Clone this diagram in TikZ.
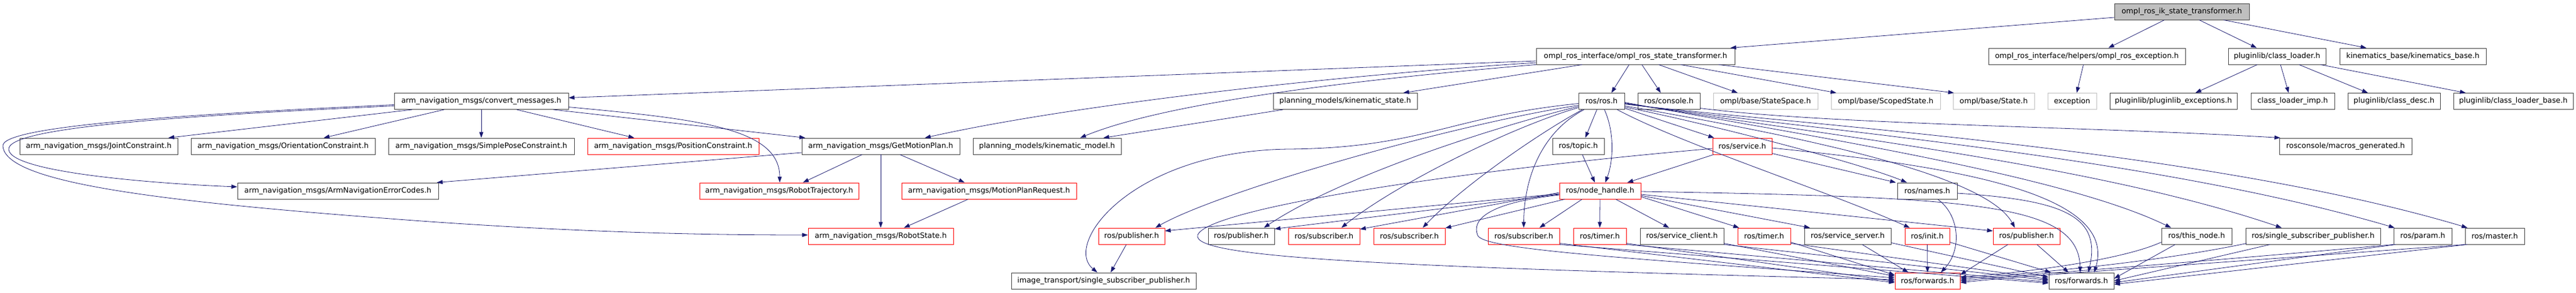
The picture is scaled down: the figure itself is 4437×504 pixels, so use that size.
\documentclass[tikz,border=0pt]{standalone}
\usepackage{fontspec}
\setmainfont{DejaVu Sans}
\usetikzlibrary{arrows.meta}
\definecolor{edgec}{HTML}{191970}
\definecolor{boxc}{HTML}{404040}
\definecolor{grayc}{HTML}{BFBFBF}
\begin{document}
\begin{tikzpicture}[x=1pt,y=-1pt,
  box/.style={draw=boxc, line width=0.9pt, minimum height=28pt, inner sep=0pt, font=\fontsize{12.8}{15}\selectfont, anchor=center},
  rbox/.style={box, draw=red},
  gbox/.style={box, draw=grayc},
  rootbox/.style={box, fill=grayc},
  e/.style={draw=edgec, line width=0.8pt, -{Triangle[length=10pt,width=7pt]}}
]
\useasboundingbox (0,0) rectangle (4437,504);
% row 0
\node[rootbox, minimum width=232pt] (rt) at (3758,20) {ompl\_ros\_ik\_state\_transformer.h};
% row 1
\node[box, minimum width=342pt] (orst) at (2817,97) {ompl\_ros\_interface/ompl\_ros\_state\_transformer.h};
\node[box, minimum width=339pt] (ore) at (3594.5,97) {ompl\_ros\_interface/helpers/ompl\_ros\_exception.h};
\node[box, minimum width=168pt] (cl) at (3922,97) {pluginlib/class\_loader.h};
\node[box, minimum width=252pt] (kb) at (4156,97) {kinematics\_base/kinematics\_base.h};
% row 2
\node[box, minimum width=300pt] (cm) at (829,174.5) {arm\_navigation\_msgs/convert\_messages.h};
\node[box, minimum width=248pt] (ks) at (2317,174.5) {planning\_models/kinematic\_state.h};
\node[box, minimum width=79pt] (rh) at (2758.5,174.5) {ros/ros.h};
\node[box, minimum width=107pt] (con) at (2874.5,174.5) {ros/console.h};
\node[gbox, minimum width=180pt] (ss) at (3041,174.5) {ompl/base/StateSpace.h};
\node[gbox, minimum width=188pt] (scs) at (3248,174.5) {ompl/base/ScopedState.h};
\node[gbox, minimum width=140pt] (st) at (3434,174.5) {ompl/base/State.h};
\node[gbox, minimum width=84pt] (exc) at (3569,174.5) {exception};
\node[box, minimum width=219pt] (pe) at (3743.5,174.5) {pluginlib/pluginlib\_exceptions.h};
\node[box, minimum width=144pt] (cli) at (3949,174.5) {class\_loader\_imp.h};
\node[box, minimum width=159pt] (cd) at (4123.5,174.5) {pluginlib/class\_desc.h};
\node[box, minimum width=206pt] (clb) at (4329,174.5) {pluginlib/class\_loader\_base.h};
% row 3
\node[box, minimum width=272pt] (jc) at (170,252) {arm\_navigation\_msgs/JointConstraint.h};
\node[box, minimum width=317pt] (oc) at (487.5,252) {arm\_navigation\_msgs/OrientationConstraint.h};
\node[box, minimum width=320pt] (sp) at (829,252) {arm\_navigation\_msgs/SimplePoseConstraint.h};
\node[rbox, minimum width=295pt] (pc) at (1159.5,252) {arm\_navigation\_msgs/PositionConstraint.h};
\node[box, minimum width=272pt] (gmp) at (1517,252) {arm\_navigation\_msgs/GetMotionPlan.h};
\node[box, minimum width=255pt] (km) at (1803.5,252) {planning\_models/kinematic\_model.h};
\node[box, minimum width=89pt] (tp) at (2718.5,252) {ros/topic.h};
\node[rbox, minimum width=102pt] (sv) at (3001,252) {ros/service.h};
\node[box, minimum width=228pt] (mg) at (4040,252) {rosconsole/macros\_generated.h};
% row 4
\node[box, minimum width=346pt] (ane) at (582,329) {arm\_navigation\_msgs/ArmNavigationErrorCodes.h};
\node[rbox, minimum width=274pt] (rtj) at (1342,329) {arm\_navigation\_msgs/RobotTrajectory.h};
\node[rbox, minimum width=301pt] (mpr) at (1703.5,329) {arm\_navigation\_msgs/MotionPlanRequest.h};
\node[rbox, minimum width=140pt] (nh) at (2756,329) {ros/node\_handle.h};
\node[box, minimum width=103pt] (nm) at (3319.5,329) {ros/names.h};
% row 5
\node[rbox, minimum width=250pt] (rs) at (1517,407) {arm\_navigation\_msgs/RobotState.h};
\node[rbox, minimum width=114pt] (pub1) at (1949,407) {ros/publisher.h};
\node[box, minimum width=114pt] (pub2) at (2138,407) {ros/publisher.h};
\node[rbox, minimum width=123pt] (sub1) at (2280.5,407) {ros/subscriber.h};
\node[rbox, minimum width=123pt] (sub2) at (2427.5,407) {ros/subscriber.h};
\node[rbox, minimum width=123pt] (sub3) at (2624.5,407) {ros/subscriber.h};
\node[rbox, minimum width=91pt] (tm1) at (2755.5,407) {ros/timer.h};
\node[box, minimum width=144pt] (scl) at (2897,407) {ros/service\_client.h};
\node[rbox, minimum width=91pt] (tm2) at (3038.5,407) {ros/timer.h};
\node[box, minimum width=149pt] (ssv) at (3182.5,407) {ros/service\_server.h};
\node[rbox, minimum width=77pt] (ini) at (3319.5,407) {ros/init.h};
\node[rbox, minimum width=115pt] (pub3) at (3490.5,407) {ros/publisher.h};
\node[box, minimum width=121pt] (tn) at (3783.5,407) {ros/this\_node.h};
\node[box, minimum width=232pt] (ssp) at (3984,407) {ros/single\_subscriber\_publisher.h};
\node[box, minimum width=100pt] (prm) at (4173,407) {ros/param.h};
\node[box, minimum width=102pt] (mst) at (4297,407) {ros/master.h};
% row 6
\node[box, minimum width=318pt] (img) at (1901,484) {image\_transport/single\_subscriber\_publisher.h};
\node[rbox, minimum width=112pt] (fwr) at (3320,484) {ros/forwards.h};
\node[box, minimum width=112pt] (fwb) at (3585,484) {ros/forwards.h};

% edges from root
\draw[e] ([yshift=-10pt]rt.west) -- ([xshift=-8pt]orst.north east);
\draw[e] ([xshift=-30pt]rt.south) -- ([xshift=37pt]ore.north);
\draw[e] ([xshift=30pt]rt.south) -- ([xshift=-35pt]cl.north);
\draw[e] ([xshift=72pt]rt.south) -- ([xshift=-80pt]kb.north);
% from ompl_ros_state_transformer
\draw[e] ([yshift=-8pt]orst.west) -- ([yshift=6pt]cm.east);
\draw[e] ([yshift=-11pt]orst.west) .. controls (2300,130) and (1850,180) .. ([xshift=76pt]gmp.north);
\draw[e] (orst.south west) .. controls (2300,140) and (2000,180) .. ([xshift=57pt]km.north);
\draw[e] ([xshift=-92pt]orst.south) -- ([xshift=100pt]ks.north);
\draw[e] ([xshift=-107pt]ks.south) -- ([xshift=97pt]km.north);
\draw[e] ([xshift=-11pt]orst.south) -- ([xshift=17pt]rh.north);
\draw[e] ([xshift=11pt]orst.south) -- ([xshift=-14pt]con.north);
\draw[e] ([xshift=40pt]orst.south) -- ([xshift=-48pt]ss.north);
\draw[e] ([xshift=78pt]orst.south) -- ([xshift=-85pt]scs.north);
\draw[e] ([xshift=-28pt]orst.south east) -- ([xshift=2pt]st.north west);
% exception / pluginlib
\draw[e] ([xshift=-6pt]ore.south) -- ([xshift=8pt]exc.north);
\draw[e] ([xshift=-34pt]cl.south) -- ([xshift=38pt]pe.north);
\draw[e] ([xshift=6pt]cl.south) -- ([xshift=-7pt]cli.north);
\draw[e] ([xshift=38pt]cl.south) -- ([xshift=-45pt]cd.north);
\draw[e] ([xshift=75pt]cl.south) -- ([xshift=-82pt]clb.north);
% convert_messages
\draw[e] ([xshift=-119pt]cm.south) -- ([xshift=120pt]jc.north);
\draw[e] ([xshift=-64pt]cm.south) -- ([xshift=70pt]oc.north);
\draw[e] (cm.south) -- (sp.north);
\draw[e] ([xshift=61pt]cm.south) -- ([xshift=-67pt]pc.north);
\draw[e] ([xshift=124pt]cm.south) -- ([xshift=-130pt]gmp.north);
\draw[e] ([yshift=-10pt]cm.east) .. controls (1200,205) and (1343,220) .. ([xshift=1pt]rtj.north);
\draw[e] ([yshift=-8pt]cm.west) .. controls (300,200) and (10,220) .. (15,258) .. controls (20,300) and (300,318) .. ([yshift=7pt]ane.west);
\draw[e] ([yshift=-6pt]cm.west) .. controls (300,198) and (0,218) .. (5,252) .. controls (10,318) and (300,350) .. (740,382) .. controls (1000,400) and (1200,405) .. ([yshift=2pt]rs.west);
% GetMotionPlan
\draw[e] ([yshift=-11pt]gmp.west) -- ([xshift=-3pt]ane.north east);
\draw[e] ([xshift=-32pt]gmp.south) -- ([xshift=41pt]rtj.north);
\draw[e] (gmp.south) -- (rs.north);
\draw[e] ([xshift=33pt]gmp.south) -- ([xshift=-42pt]mpr.north);
\draw[e] ([xshift=-36pt]mpr.south) -- ([xshift=40pt]rs.north);
% ros.h
\draw[e] ([xshift=-8pt]rh.south) -- ([xshift=12pt]tp.north);
\draw[e] ([xshift=5pt]rh.south) .. controls (2782,230) and (2778,280) .. ([xshift=9pt]nh.north);
\draw[e] ([xshift=7pt]tp.south) -- ([xshift=-9pt]nh.north);
\draw[e] ([yshift=-12pt]rh.east) -- ([xshift=3pt]sv.north west);
\draw[e] ([xshift=2pt]sv.south west) -- ([xshift=47pt]nh.north);
\draw[e] ([xshift=-30pt]rh.south) .. controls (2660,225) and (2625,300) .. (sub3.north);
\draw[e] ([yshift=-4pt]rh.west) .. controls (2500,200) and (2450,255) .. (2220,257) .. controls (1950,260) and (1830,420) .. ([xshift=-11pt]img.north);
\draw[e] ([yshift=-7pt]rh.west) .. controls (2500,215) and (2100,330) .. ([xshift=41pt]pub1.north);
\draw[e] ([yshift=-9pt]rh.west) .. controls (2550,225) and (2300,310) .. ([xshift=39pt]pub2.north);
\draw[e] ([yshift=-11pt]rh.west) .. controls (2600,220) and (2400,320) .. ([xshift=30pt]sub1.north);
\draw[e] ([xshift=-33pt]rh.south) .. controls (2650,230) and (2520,320) .. ([xshift=23pt]sub2.north);
\draw[e] ([xshift=27pt]rh.south) .. controls (2900,250) and (3150,330) .. ([xshift=-30pt]ini.north);
\draw[e] ([yshift=-10pt]rh.east) .. controls (2950,215) and (3200,280) .. ([xshift=-35pt]nm.north);
\draw[e] ([yshift=-8pt]rh.east) .. controls (3100,235) and (3420,300) .. ([xshift=-20pt]pub3.north);
\draw[e] ([yshift=-5pt]rh.east) .. controls (3100,215) and (3800,258) .. ([xshift=-47pt]mst.north);
\draw[e] ([yshift=-4pt]rh.east) .. controls (3100,222) and (3700,268) .. ([xshift=2pt]prm.north west);
\draw[e] ([yshift=-3pt]rh.east) .. controls (3100,228) and (3600,280) .. ([xshift=-54pt]ssp.north);
\draw[e] ([yshift=-2pt]rh.east) .. controls (3100,232) and (3550,300) .. ([xshift=-44pt]tn.north);
\draw[e] ([yshift=-12pt]con.east) .. controls (3150,215) and (3600,218) .. ([xshift=2pt]mg.north west);
% service.h
\draw[e] ([yshift=2pt]sv.south east) -- ([xshift=-2pt]nm.north west);
\draw[e] ([yshift=-4pt]sv.west) .. controls (2500,295) and (2080,360) .. (2063,405) .. controls (2050,445) and (2400,460) .. ([yshift=2pt]fwr.west);
\draw[e] ([yshift=-3pt]sv.east) .. controls (3350,285) and (3650,330) .. ([xshift=22pt]fwb.north);
% node_handle
\draw[e] ([yshift=-5pt]nh.west) -- ([yshift=9pt]pub1.east);
\draw[e] ([yshift=-6pt]nh.west) -- ([yshift=-2pt]pub2.north east);
\draw[e] ([yshift=-3pt]nh.west) -- ([yshift=12pt]sub1.east);
\draw[e] ([xshift=-61pt]nh.south) -- ([yshift=14pt]sub2.east);
\draw[e] ([xshift=-31pt]nh.south) -- ([xshift=27pt]sub3.north);
\draw[e] (nh.south) -- (tm1.north);
\draw[e] ([xshift=27pt]nh.south) -- ([xshift=-22pt]scl.north);
\draw[e] ([yshift=-10pt]nh.east) -- ([xshift=3pt]tm2.north west);
\draw[e] ([yshift=-8pt]nh.east) -- ([xshift=10pt]ssv.north west);
\draw[e] ([yshift=-6pt]nh.east) -- ([yshift=9pt]pub3.west);
\draw[e] ([yshift=-1pt]nh.east) .. controls (3400,340) and (3580,350) .. ([xshift=-2pt]fwb.north);
\draw[e] ([yshift=-7pt]nh.west) .. controls (2560,350) and (2535,380) .. (2545,405) .. controls (2550,430) and (2800,445) .. ([yshift=5pt]fwr.west);
% names
\draw[e] ([xshift=18pt]nm.south) .. controls (3375,370) and (3380,430) .. ([xshift=23pt]fwr.north);
\draw[e] ([yshift=-4pt]nm.east) .. controls (3550,345) and (3620,370) .. ([xshift=12pt]fwb.north);
% row 5 to forwards
\draw[e] (ini.south) -- (fwr.north);
\draw[e] ([yshift=4pt]ini.south east) -- ([xshift=4pt]fwb.north west);
\draw[e] ([xshift=-32pt]pub3.south) -- ([yshift=-4pt]fwr.north east);
\draw[e] ([xshift=18pt]pub3.south) -- ([xshift=-22pt]fwb.north);
\draw[e] ([yshift=4pt]tn.south west) .. controls (3650,450) and (3480,470) .. ([yshift=6pt]fwr.east);
\draw[e] ([xshift=-37pt]tn.south) -- ([yshift=4pt]fwb.east);
\draw[e] ([xshift=2pt,yshift=2pt]ssp.south west) .. controls (3700,455) and (3480,472) .. ([yshift=3pt]fwr.east);
\draw[e] ([xshift=-74pt]ssp.south) -- (fwb.east);
\draw[e] (prm.south west) .. controls (3750,455) and (3490,473) .. (fwr.east);
\draw[e] ([xshift=4pt]prm.south west) -- ([yshift=-3pt]fwb.east);
\draw[e] (mst.south west) .. controls (3800,455) and (3495,474) .. ([yshift=-3pt]fwr.east);
\draw[e] ([xshift=4pt]mst.south west) -- ([yshift=-6pt]fwb.east);
\draw[e] ([xshift=25pt]ssv.south) -- ([xshift=-33pt]fwr.north);
\draw[e] ([yshift=3pt]ssv.south east) -- ([yshift=6pt]fwb.west);
\draw[e] ([yshift=4pt]tm2.south east) -- ([yshift=10pt]fwr.west);
\draw[e] ([yshift=2pt]tm2.south east) -- ([yshift=3pt]fwb.west);
\draw[e] ([yshift=2pt]scl.south east) -- ([yshift=8pt]fwr.west);
\draw[e] (scl.south east) -- ([yshift=1pt]fwb.west);
\draw[e] ([yshift=2pt]tm1.south east) -- ([yshift=-1pt]fwr.west);
\draw[e] (tm1.south east) -- ([yshift=-2pt]fwb.west);
\draw[e] ([yshift=2pt]sub3.south east) -- ([yshift=-3pt]fwr.west);
\draw[e] (sub3.south east) -- ([yshift=-4pt]fwb.west);
\draw[e] ([xshift=-9pt]pub1.south) -- ([xshift=12pt]img.north);
\end{tikzpicture}
\end{document}
